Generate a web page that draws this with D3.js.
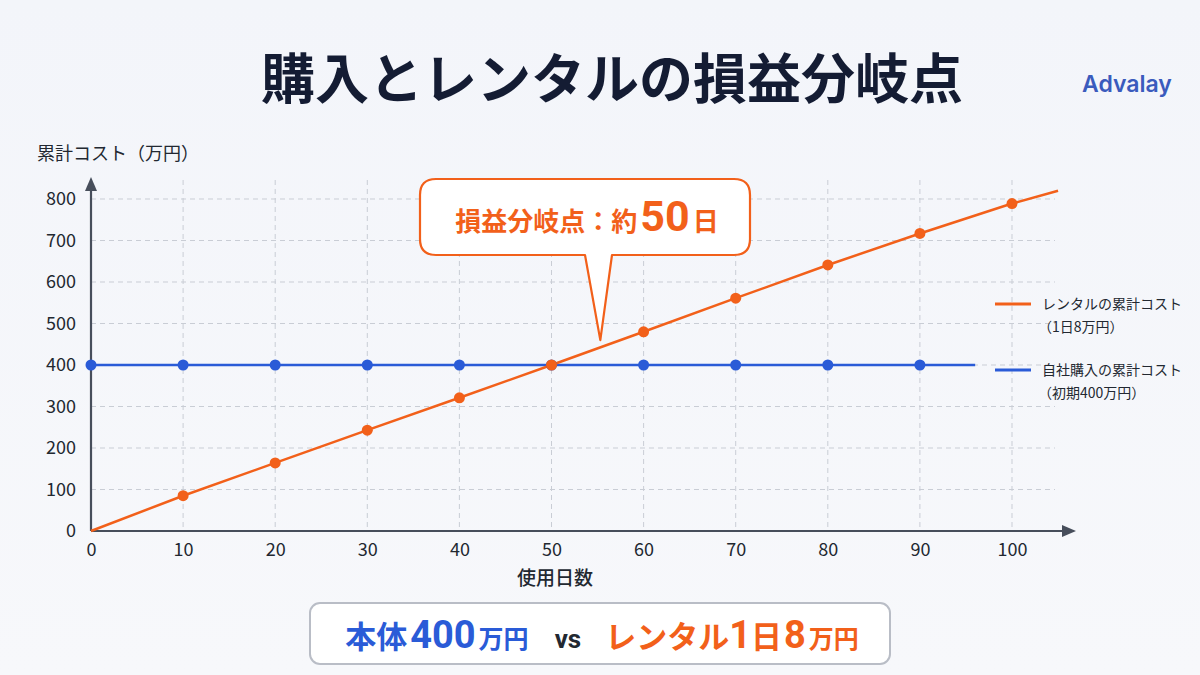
<!DOCTYPE html>
<html>
<head>
<meta charset="utf-8">
<script src="https://cdn.jsdelivr.net/npm/d3@7"></script>
<style>
  html, body { margin: 0; padding: 0; background: #f5f7fb; }
  svg { display: block; font-family: "Noto Sans CJK JP", "Noto Sans", sans-serif; }
</style>
</head>
<body>
<div id="chart"></div>
<script>
// data
const days = [0, 10, 20, 30, 40, 50, 60, 70, 80, 90, 100];
const rentalCost = [0, 85, 164, 243, 321, 400, 480, 561, 641, 717, 789];
const rentalTail = [105, 820];          // line runs past the last marker
const purchaseDays = [0, 10, 20, 30, 40, 50, 60, 70, 80, 90];
const purchaseCost = [400, 400, 400, 400, 400, 400, 400, 400, 400, 400];
const purchaseEnd = [96, 400];
const xTicks = [0, 10, 20, 30, 40, 50, 60, 70, 80, 90, 100];
const yTicks = [0, 100, 200, 300, 400, 500, 600, 700, 800];
const legendLabels = [
  ["レンタルの累計コスト", "（1日8万円）"],
  ["自社購入の累計コスト", "（初期400万円）"]
];
const calloutTip = [55.3, 460];

const W = 1200, H = 675;
const orange = "#f2601a", blue = "#2a5bd7", navy = "#141c33", axisCol = "#474e5b";

let svg = d3.select("#chart").append("svg").attr("width", W).attr("height", H);

// background
let defs = svg.append("defs");
let bg = defs.append("linearGradient").attr("id", "bg").attr("x1", 0).attr("y1", 0).attr("x2", 0).attr("y2", 1);
bg.append("stop").attr("offset", "0%").attr("stop-color", "#f3f5fa");
bg.append("stop").attr("offset", "100%").attr("stop-color", "#f7f8fb");
svg.append("rect").attr("width", W).attr("height", H).attr("fill", "url(#bg)");

let x = d3.scaleLinear().domain([0, 100]).range([91, 1012]);
let y = d3.scaleLinear().domain([0, 800]).range([531, 199]);

// title
svg.append("text").attr("x", 612).attr("y", 99).attr("text-anchor", "middle")
  .attr("font-size", 54).attr("font-weight", 700).attr("fill", navy)
  .text("購入とレンタルの損益分岐点");
svg.append("text").attr("x", 1127).attr("y", 92).attr("text-anchor", "middle")
  .attr("font-family", "Inter, 'Noto Sans', sans-serif")
  .attr("font-size", 23).attr("font-weight", 600).attr("fill", "#3a5bbd")
  .text("Advalay");

// grid
let grid = svg.append("g").attr("stroke", "#c9cdd5").attr("stroke-dasharray", "5,4").attr("stroke-width", 1);
grid.selectAll("line.h").data(yTicks.filter(d => d > 0)).join("line")
  .attr("x1", x(0)).attr("x2", 1055).attr("y1", d => y(d)).attr("y2", d => y(d));
grid.selectAll("line.v").data(xTicks.filter(d => d > 0)).join("line")
  .attr("x1", d => x(d)).attr("x2", d => x(d)).attr("y1", 180).attr("y2", y(0));

// axes
let xAxis = d3.axisBottom(x).tickValues(xTicks).tickSize(0).tickPadding(12);
let yAxis = d3.axisLeft(y).tickValues(yTicks).tickSize(0).tickPadding(15);

let gx = svg.append("g").attr("transform", `translate(0,${y(0)})`).call(xAxis);
gx.select(".domain").remove();
gx.selectAll("text").attr("font-size", 18).attr("fill", "#222831")
  .attr("font-family", "'Noto Sans CJK JP', sans-serif");

let gy = svg.append("g").attr("transform", `translate(${x(0)},0)`).call(yAxis);
gy.select(".domain").remove();
gy.selectAll("text").attr("font-size", 18).attr("fill", "#222831")
  .attr("font-family", "'Noto Sans CJK JP', sans-serif");

// axis lines with arrows
svg.append("line").attr("x1", x(0)).attr("x2", 1064).attr("y1", y(0)).attr("y2", y(0))
  .attr("stroke", axisCol).attr("stroke-width", 2.2);
svg.append("path").attr("d", `M1076,${y(0)} L1062,${y(0) - 6} L1062,${y(0) + 6} Z`).attr("fill", axisCol);
svg.append("line").attr("x1", x(0)).attr("x2", x(0)).attr("y1", y(0)).attr("y2", 190)
  .attr("stroke", axisCol).attr("stroke-width", 2.2);
svg.append("path").attr("d", `M${x(0)},177 L${x(0) - 6},191 L${x(0) + 6},191 Z`).attr("fill", axisCol);

svg.append("text").attr("x", 37).attr("y", 160).attr("font-size", 18).attr("fill", "#222831")
  .text("累計コスト（万円）");
svg.append("text").attr("x", 555).attr("y", 585).attr("text-anchor", "middle")
  .attr("font-size", 19).attr("font-weight", 500).attr("fill", "#222831")
  .text("使用日数");

// series
let line = d3.line().x(d => x(d[0])).y(d => y(d[1]));
let purchasePts = purchaseDays.map((d, i) => [d, purchaseCost[i]]);
let rentalPts = days.map((d, i) => [d, rentalCost[i]]);

svg.append("path").datum(purchasePts.concat([purchaseEnd]))
  .attr("d", line).attr("fill", "none").attr("stroke", blue).attr("stroke-width", 2.5);
svg.append("path").datum(rentalPts.concat([rentalTail]))
  .attr("d", line).attr("fill", "none").attr("stroke", orange).attr("stroke-width", 2.5);

svg.append("g").selectAll("circle").data(purchasePts).join("circle")
  .attr("cx", d => x(d[0])).attr("cy", d => y(d[1])).attr("r", 5.5).attr("fill", blue);
svg.append("g").selectAll("circle").data(rentalPts.slice(1)).join("circle")
  .attr("cx", d => x(d[0])).attr("cy", d => y(d[1])).attr("r", 5.5).attr("fill", orange);

// callout
let cx0 = 420, cy0 = 179, cw = 330, ch = 76, r = 16;
let tipX = x(calloutTip[0]), tipY = y(calloutTip[1]);
let calloutPath = `M${cx0 + r},${cy0} H${cx0 + cw - r} Q${cx0 + cw},${cy0} ${cx0 + cw},${cy0 + r}
  V${cy0 + ch - r} Q${cx0 + cw},${cy0 + ch} ${cx0 + cw - r},${cy0 + ch}
  H612 L${tipX},${tipY} L585,${cy0 + ch}
  H${cx0 + r} Q${cx0},${cy0 + ch} ${cx0},${cy0 + ch - r}
  V${cy0 + r} Q${cx0},${cy0} ${cx0 + r},${cy0} Z`;
svg.append("path").attr("d", calloutPath).attr("fill", "#ffffff")
  .attr("stroke", orange).attr("stroke-width", 2.2).attr("stroke-linejoin", "round");
let ct = svg.append("text").attr("x", 587).attr("y", 231).attr("text-anchor", "middle")
  .attr("fill", orange).attr("font-weight", 700);
ct.append("tspan").attr("font-size", 26).text("損益分岐点：約");
ct.append("tspan").attr("font-size", 43).attr("font-family", "Roboto, sans-serif").attr("dx", 3).text("50");
ct.append("tspan").attr("font-size", 26).attr("dx", 3).text("日");

// legend
let legend = svg.append("g");
[orange, blue].forEach((c, i) => {
  let ly = i === 0 ? 304 : 370;
  legend.append("line").attr("x1", 995).attr("x2", 1031).attr("y1", ly).attr("y2", ly)
    .attr("stroke", c).attr("stroke-width", 3);
  legend.append("text").attr("x", 1042).attr("y", ly + 5).attr("font-size", 14).attr("fill", "#222831")
    .text(legendLabels[i][0]);
  legend.append("text").attr("x", 1038).attr("y", ly + 28).attr("font-size", 14).attr("fill", "#222831")
    .text(legendLabels[i][1]);
});

// bottom comparison box
svg.append("rect").attr("x", 310).attr("y", 603).attr("width", 580).attr("height", 61).attr("rx", 10)
  .attr("fill", "#ffffff").attr("stroke", "#b9bdc6").attr("stroke-width", 2);
let bt = svg.append("text").attr("x", 602).attr("y", 648).attr("text-anchor", "middle").attr("font-weight", 700);
bt.append("tspan").attr("fill", blue).attr("font-size", 31).text("本体");
bt.append("tspan").attr("fill", blue).attr("font-size", 38).attr("dx", 3).attr("font-family", "Roboto, sans-serif").text("400");
bt.append("tspan").attr("fill", blue).attr("font-size", 25).attr("dx", 3).text("万円");
bt.append("tspan").attr("fill", "#222831").attr("font-size", 26).attr("dx", 26).attr("font-family", "Roboto, sans-serif").text("vs");
bt.append("tspan").attr("fill", orange).attr("font-size", 31).attr("dx", 24).text("レンタル");
bt.append("tspan").attr("fill", orange).attr("font-size", 38).attr("font-family", "Roboto, sans-serif").text("1");
bt.append("tspan").attr("fill", orange).attr("font-size", 31).text("日");
bt.append("tspan").attr("fill", orange).attr("font-size", 38).attr("dx", 2).attr("font-family", "Roboto, sans-serif").text("8");
bt.append("tspan").attr("fill", orange).attr("font-size", 25).attr("dx", 3).text("万円");
</script>
</body>
</html>
